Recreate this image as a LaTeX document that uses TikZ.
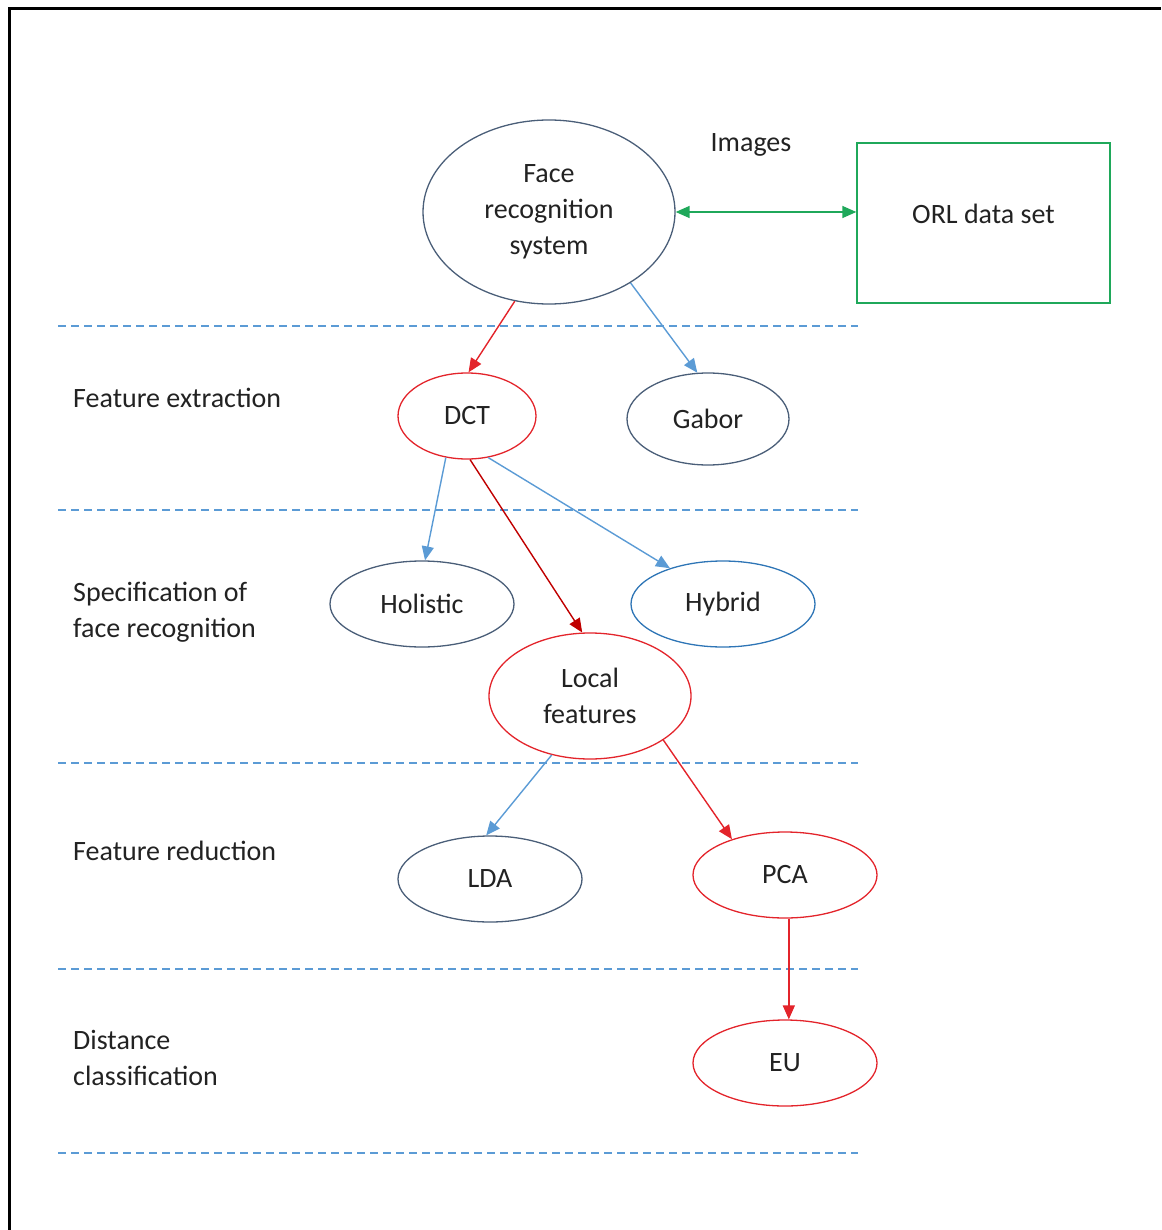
\documentclass[tikz,border=0pt]{standalone}
\usepackage{fontspec}
\setmainfont{Carlito}
\usetikzlibrary{shapes.geometric,arrows.meta}
\definecolor{slate}{HTML}{4A5E78}
\definecolor{redline}{HTML}{E3242B}
\definecolor{darkred}{HTML}{C00000}
\definecolor{lightblue}{HTML}{5B9BD5}
\definecolor{hybblue}{HTML}{2E75B6}
\definecolor{grn}{HTML}{1FA85A}
\definecolor{txt}{HTML}{222222}
\tikzset{
  every node/.style={font=\fontsize{28}{36}\selectfont,text=txt,inner sep=0pt},
  oval/.style={ellipse,draw=slate,line width=1.3pt,align=center},
  redoval/.style={oval,draw=redline},
  layer/.style={lightblue,line width=1.2pt,dash pattern=on 8pt off 5pt},
  lbl/.style={anchor=west,align=left},
  >={Triangle[length=14pt,width=12pt]},
  link/.style={->,line width=1.4pt,lightblue},
  redlink/.style={->,line width=1.4pt,redline}
}
\begin{document}
\begin{tikzpicture}[x=1pt,y=-1pt]
\useasboundingbox (0,0) rectangle (1161,1230);
\draw[line width=3pt] (9,1230) -- (9,9) -- (1161,9);
\foreach \y in {326,510,763,969,1153}
  \draw[layer] (58,\y) -- (858,\y);
\node[lbl] (featext) at (73,398) {Feature extraction};
\node[lbl] (specif) at (73,612) {Specification of\\face recognition};
\node[lbl] (featred) at (73,851) {Feature reduction};
\node[lbl] (distcls) at (73,1058) {Distance\\classification};
\node[oval,minimum width=252pt,minimum height=184pt] (face) at (549,212) {Face\\recognition\\system};
\node (images) at (751,145) {Images};
\node[draw=grn,line width=1.3pt,minimum width=253pt,minimum height=160pt,
  label={[yshift=9pt]center:ORL data set}] (orl) at (983.5,223) {};
\node[redoval,minimum width=138pt,minimum height=86pt] (dct) at (467,416) {DCT};
\node[oval,minimum width=162pt,minimum height=92pt] (gabor) at (708,419) {Gabor};
\node[oval,minimum width=184pt,minimum height=86pt] (holistic) at (422,604) {Holistic};
\node[oval,draw=hybblue,minimum width=184pt,minimum height=86pt] (hybrid) at (723,604) {Hybrid};
\node[redoval,minimum width=202pt,minimum height=126pt] (local) at (590,696) {Local\\features};
\node[oval,minimum width=184pt,minimum height=86pt] (lda) at (490,879) {LDA};
\node[redoval,minimum width=184pt,minimum height=86pt] (pca) at (785,875) {PCA};
\node[redoval,minimum width=184pt,minimum height=86pt] (eu) at (785,1063) {EU};
\draw[<->,line width=1.4pt,grn] (face.east) -- (face.east -| orl.west);
\draw[redlink] (face.249) -- (dct.88);
\draw[link] (face.-41) -- (gabor.103);
\draw[link] (dct.-117) -- (holistic.86);
\draw[redlink,darkred] (dct.-86) -- (local.97);
\draw[link] (dct.-63) -- (hybrid.146);
\draw[link] (local.-123) -- (lda.95);
\draw[redlink] (local.-31) -- (pca.146);
\draw[redlink] (pca.-85) -- (eu.85);
\end{tikzpicture}
\end{document}
